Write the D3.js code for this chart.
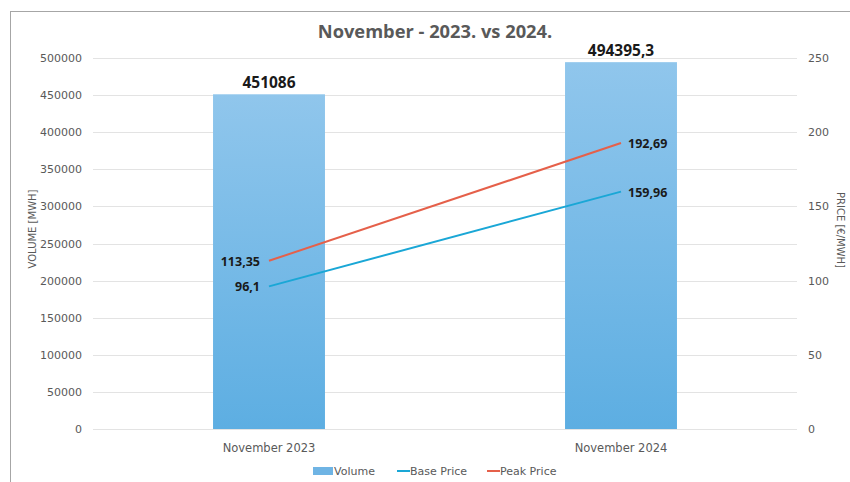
<!DOCTYPE html>
<html><head><meta charset="utf-8">
<script src="https://cdn.jsdelivr.net/npm/d3@7"></script>
<style>body{margin:0;background:#fff}svg{display:block}</style>
</head><body>
<svg id="chart" width="850" height="482"></svg>
<script>
const categories = ["November 2023", "November 2024"];
const volume = [451086, 494395.3];
const volumeLabels = ["451086", "494395,3"];
const basePrice = [96.1, 159.96];
const basePriceLabels = ["96,1", "159,96"];
const peakPrice = [113.35, 192.69];
const peakPriceLabels = ["113,35", "192,69"];
const volumeTicks = [0, 50000, 100000, 150000, 200000, 250000, 300000, 350000, 400000, 450000, 500000];
const priceTicks = [0, 50, 100, 150, 200, 250];

const svg = d3.select("#chart");
const small = "'DejaVu Sans', sans-serif";
const bold = "'Open Sans', sans-serif";
const grey = "#595959";

// outer frame
svg.append("rect").attr("x", 10.5).attr("y", 11.5).attr("width", 860).attr("height", 500)
  .attr("fill", "#fff").attr("stroke", "#a6a6a6").attr("stroke-width", 1);

const m = {left: 93, right: 797, top: 58, bottom: 429};
const x = d3.scaleBand().domain(categories).range([m.left, m.right]).paddingInner(0.682).paddingOuter(0.341);
const yV = d3.scaleLinear().domain([0, 500000]).range([m.bottom, m.top]);
const yP = d3.scaleLinear().domain([0, 250]).range([m.bottom, m.top]);

// gradient
const defs = svg.append("defs");
const g = defs.append("linearGradient").attr("id", "barGrad").attr("x1", 0).attr("y1", 0).attr("x2", 0).attr("y2", 1);
g.append("stop").attr("offset", "0%").attr("stop-color", "#90c6ec");
g.append("stop").attr("offset", "100%").attr("stop-color", "#5daee2");

// gridlines
svg.append("g").selectAll("line").data(volumeTicks).join("line")
  .attr("x1", m.left).attr("x2", m.right)
  .attr("y1", d => Math.round(yV(d)) + 0.5).attr("y2", d => Math.round(yV(d)) + 0.5)
  .attr("stroke", "#e3e3e3").attr("stroke-width", 1);

// left axis
const axL = svg.append("g").attr("transform", `translate(${m.left - 8},0)`)
  .call(d3.axisLeft(yV).tickValues(volumeTicks).tickSize(0).tickPadding(3).tickFormat(d => String(d)));
axL.select(".domain").remove();
axL.selectAll("text").attr("font-family", small).attr("font-size", 11).attr("fill", grey);

// right axis
const axR = svg.append("g").attr("transform", `translate(${m.right + 8},0)`)
  .call(d3.axisRight(yP).tickValues(priceTicks).tickSize(0).tickPadding(3).tickFormat(d => String(d)));
axR.select(".domain").remove();
axR.selectAll("text").attr("font-family", small).attr("font-size", 11).attr("fill", grey);

// bottom axis
const axB = svg.append("g").attr("transform", `translate(0,${m.bottom})`)
  .call(d3.axisBottom(x).tickSize(0).tickPadding(15));
axB.select(".domain").remove();
axB.selectAll("text").attr("font-family", small).attr("font-size", 11.5).attr("fill", grey);

// bars
svg.append("g").selectAll("rect").data(volume).join("rect")
  .attr("x", (d, i) => x(categories[i])).attr("width", x.bandwidth())
  .attr("y", d => yV(d)).attr("height", d => yV(0) - yV(d))
  .attr("fill", "url(#barGrad)");

svg.append("g").selectAll("text").data(volume).join("text")
  .attr("x", (d, i) => x(categories[i]) + x.bandwidth() / 2).attr("y", d => yV(d) - 6)
  .attr("text-anchor", "middle").attr("font-family", bold).attr("font-weight", "bold")
  .attr("font-size", 15.5).attr("fill", "#1a1a1a").text((d, i) => volumeLabels[i]);

// lines
const cx = (i) => x(categories[i]) + x.bandwidth() / 2;
const line = d3.line().x((d, i) => cx(i)).y(d => yP(d));
svg.append("path").datum(basePrice).attr("d", line).attr("fill", "none").attr("stroke", "#1aa7d6").attr("stroke-width", 2);
svg.append("path").datum(peakPrice).attr("d", line).attr("fill", "none").attr("stroke", "#e5604a").attr("stroke-width", 2);

function priceLabels(vals, labels) {
  svg.append("g").selectAll("text").data(vals).join("text")
    .attr("x", (d, i) => i === 0 ? cx(i) - 9 : cx(i) + 7)
    .attr("y", d => yP(d) + 5)
    .attr("text-anchor", (d, i) => i === 0 ? "end" : "start")
    .attr("font-family", bold).attr("font-weight", "bold").attr("font-size", 12.5)
    .attr("fill", "#1a1a1a").text((d, i) => labels[i]);
}
priceLabels(basePrice, basePriceLabels);
priceLabels(peakPrice, peakPriceLabels);

// title
svg.append("text").attr("x", 435).attr("y", 38).attr("text-anchor", "middle")
  .attr("font-family", bold).attr("font-weight", "bold").attr("font-size", 18.3).attr("fill", grey)
  .text("November - 2023. vs 2024.");

// axis titles
svg.append("text").attr("transform", "translate(36,229) rotate(-90)").attr("text-anchor", "middle")
  .attr("font-family", small).attr("font-size", 10).attr("fill", grey).text("VOLUME [MWH]");
svg.append("text").attr("transform", "translate(837,230) rotate(90)").attr("text-anchor", "middle")
  .attr("font-family", small).attr("font-size", 10).attr("fill", grey).text("PRICE [€/MWH]");

// legend
const lg = svg.append("g").attr("font-family", small).attr("font-size", 11).attr("fill", grey);
lg.append("rect").attr("x", 313).attr("y", 467).attr("width", 20).attr("height", 8).attr("fill", "#6fb4e4");
lg.append("text").attr("x", 334).attr("y", 475).text("Volume");
lg.append("line").attr("x1", 397).attr("x2", 410).attr("y1", 471).attr("y2", 471).attr("stroke", "#1aa7d6").attr("stroke-width", 2);
lg.append("text").attr("x", 410).attr("y", 475).text("Base Price");
lg.append("line").attr("x1", 487).attr("x2", 500).attr("y1", 471).attr("y2", 471).attr("stroke", "#e5604a").attr("stroke-width", 2);
lg.append("text").attr("x", 500).attr("y", 475).text("Peak Price");
</script>
</body></html>
